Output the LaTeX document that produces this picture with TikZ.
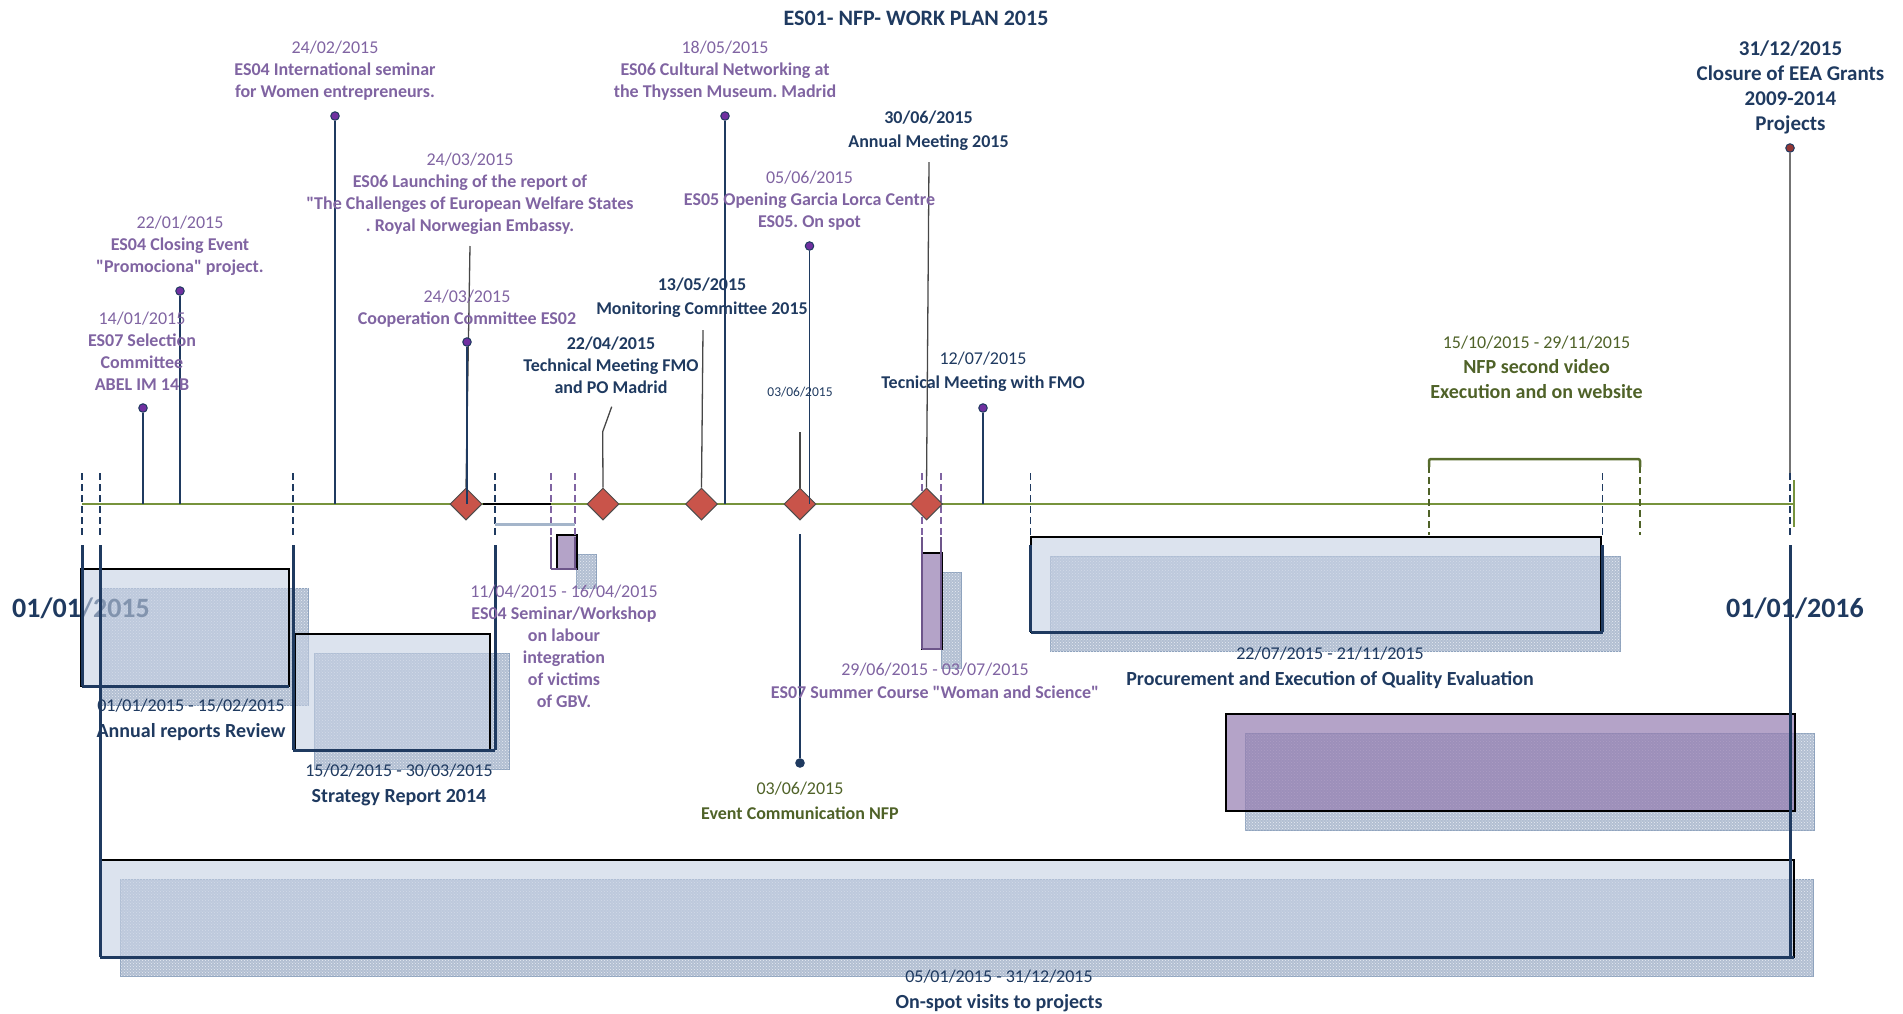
\documentclass[tikz,border=0pt]{standalone}
\usepackage{fontspec}
\setmainfont{Carlito}[Ligatures=TeXOff]
\frenchspacing
\usetikzlibrary{shapes.geometric,patterns,positioning}
\definecolor{nfpnavy}{HTML}{1F3A60}
\definecolor{evpurple}{HTML}{8064A2}
\definecolor{pinpurple}{HTML}{7030A0}
\definecolor{nfpgreen}{HTML}{4F6228}
\definecolor{lineolive}{HTML}{77933C}
\definecolor{milered}{HTML}{C9544A}
\definecolor{closered}{HTML}{943634}
\definecolor{shadeblue}{HTML}{B2BFD2}
\definecolor{shadeedge}{HTML}{8EA2BD}
\definecolor{barblue}{HTML}{C5D0E3}
\definecolor{barpurple}{HTML}{947CB0}
\tikzset{
  every node/.style = {font=\fontsize{18}{22}\selectfont, inner sep=0pt, align=center},
  evt/.style        = {text=evpurple},
  mgt/.style        = {text=nfpnavy},
  com/.style        = {text=nfpgreen},
  pinhead/.style    = {circle, draw=nfpnavy, fill=pinpurple, line width=1pt, minimum size=8.5pt},
  stem/.style       = {nfpnavy, line width=1.8pt},
  leader/.style     = {black!72, line width=1.3pt},
  mile/.style       = {diamond, draw=black!70, fill=milered, line width=1pt,
                       minimum width=32pt, minimum height=32pt},
  dateln/.style     = {nfpnavy, line width=1.5pt, dash pattern=on 7pt off 4pt},
  pdateln/.style    = {dateln, evpurple},
  gdateln/.style    = {dateln, nfpgreen},
  rail/.style       = {nfpnavy, line width=3pt},
  prail/.style      = {evpurple!85!black, line width=2.5pt},
  shadowbox/.style  = {fill=shadeblue, draw=shadeedge, line width=0.8pt,
                       postaction={pattern=crosshatch dots, pattern color=white!70!shadeblue}},
  ganttbar/.style   = {fill=barblue, fill opacity=0.6, draw=black, line width=1.4pt},
  pganttbar/.style  = {fill=barpurple, fill opacity=0.7, draw=black, line width=1.4pt},
  yearlbl/.style    = {mgt, font=\fontsize{28}{32}\selectfont\bfseries},
  barlbl/.style     = {mgt, font=\fontsize{18}{26}\selectfont},
}

\begin{document}
\begin{tikzpicture}[x=1pt, y=-1pt]
  \useasboundingbox (0,0) rectangle (1903,1013);
  \node[mgt, font=\fontsize{22}{26}\selectfont\bfseries] (title) at (916,18) {ES01- NFP- WORK PLAN 2015};

  % gantt bars
  \foreach \a/\b/\c/\d in {81/569/289/686, 295/634/490/750, 557/535/577/569, 922/553/942/649,
                           1031/537/1601/632, 1226/714/1795/811, 101/860/1794/957}
    \draw[shadowbox] (\a+19,\b+19) rectangle (\c+19,\d+19);
  \node[yearlbl] (y2015) at (81,608) {01/01/2015};
  \node[yearlbl] (y2016) at (1795,608) {01/01/2016};
  \foreach \a/\b/\c/\d in {81/569/289/686, 295/634/490/750, 1031/537/1601/632, 101/860/1794/957}
    \draw[ganttbar] (\a,\b) rectangle (\c,\d);
  \foreach \a/\b/\c/\d in {557/535/577/569, 922/553/942/649, 1226/714/1795/811}
    \draw[pganttbar] (\a,\b) rectangle (\c,\d);

  % time line
  \coordinate (t0) at (82,504);
  \coordinate (t1) at (1794,504);
  \draw[lineolive, line width=2pt] (t0) -- (t1);
  \draw[lineolive, line width=1.5pt] (1794,480) -- (1794,527);

  \foreach \x/\y in {82/686, 100/957, 293/750, 495/750, 1030.5/632, 1602.5/632, 1790/957} {
    \draw[dateln] (\x,473) -- (\x,535);
    \draw[rail] (\x,545) -- (\x,\y);
  }
  \foreach \a/\c/\y in {82/289/686, 293/495/750, 1030.5/1602.5/632, 100/1794/957}
    \draw[rail] (\a,\y) -- (\c,\y);
  \foreach \x/\y in {551/569, 575/569, 922/649, 941/649} {
    \draw[pdateln] (\x,473) -- (\x,535);
    \draw[prail] (\x,537) -- (\x,\y);
  }
  \draw[prail] (551,569) -- (577,569);
  \draw[prail] (922,649) -- (942,649);
  \draw[shadeedge!80, line width=3pt] (495,524) -- (575,524);
  \foreach \x in {1429,1640}
    \draw[gdateln] (\x,466) -- (\x,535);
  \draw[nfpgreen!80!lineolive, line width=2.5pt, rounded corners=2pt]
    (1429,467) -- (1429,459) -- (1640,459) -- (1640,467);

  % milestones
  \foreach \n/\x in {m1/466, m2/603, m3/701.5, m4/800, m5/926.5}
    \node[mile] (\n) at (\x,504) {};
  \draw[black, line width=2.5pt] (m1.east) -- (551,504);
  \coordinate (c1) at (470,246);
  \coordinate (c2) at (611.7,406.7);
  \coordinate (c3) at (703,330);
  \coordinate (c4) at (800,432);
  \coordinate (c5) at (929,162);
  \draw[leader] (c1) -- (m1.north);
  \draw[leader] (c2) -- (602.7,431.7) -- (m2.north);
  \draw[leader] (c3) -- (m3.north);
  \draw[leader] (c4) -- (m4.north);
  \draw[leader] (c5) -- (m5.north);

  % events
  \foreach \n/\x/\y in {p1/143/408, p2/180/291, p3/335/116, p4/467/342, p5/725/116, p6/809.5/246, p7/983/408} {
    \node[pinhead] (\n) at (\x,\y) {};
    \coordinate (\n-t) at (\x,504);
    \draw[stem] (\n) -- (\n-t);
  }
  \coordinate (m4-b) at (800,534);
  \node[pinhead, fill=nfpnavy] (p8) at (800,763) {};
  \draw[stem] (m4-b) -- (p8);
  \node[pinhead, fill=closered] (p9) at (1790,148) {};
  \coordinate (p9-t) at (1790,473);
  \draw[leader, black!55] (p9) -- (p9-t);

  % labels
  \node[evt] (l1) at (142,351) {14/01/2015\\\textbf{ES07 Selection}\\\textbf{Committee}\\\textbf{ABEL IM 14B}};
  \node[evt] (l2) at (180,245.5) {22/01/2015\\\textbf{ES04 Closing Event}\\\textbf{"Promociona" project.}};
  \node[evt] (l3) at (335,71) {24/02/2015\\\textbf{ES04 International seminar}\\\textbf{for Women entrepreneurs.}};
  \node[evt] (l4) at (470,193.5) {24/03/2015\\\textbf{ES06 Launching of the report of}\\\textbf{"The Challenges of European Welfare States}\\\textbf{. Royal Norwegian Embassy.}};
  \node[evt] (l5) at (467,308.5) {24/03/2015\\\textbf{Cooperation Committee ES02}};
  \node[mgt, font=\fontsize{18}{22}\selectfont\bfseries] (l6) at (611,365) {22/04/2015\\Technical Meeting FMO\\and PO Madrid};
  \node[mgt, font=\fontsize{18}{24}\selectfont\bfseries] (l7) at (702,298) {13/05/2015\\Monitoring Committee 2015};
  \node[evt] (l8) at (725,70.5) {18/05/2015\\\textbf{ES06 Cultural Networking at}\\\textbf{the Thyssen Museum. Madrid}};
  \node[evt] (l9) at (809.5,200.5) {05/06/2015\\\textbf{ES05 Opening Garcia Lorca Centre}\\\textbf{ES05. On spot}};
  \node[mgt, font=\fontsize{18}{24}\selectfont\bfseries] (l10) at (928.5,131) {30/06/2015\\Annual Meeting 2015};
  \node[mgt, font=\fontsize{13.5}{16}\selectfont] (l11) at (800,392) {03/06/2015};
  \node[mgt, font=\fontsize{18}{24}\selectfont] (l12) at (983,372) {12/07/2015\\\textbf{Tecnical Meeting with FMO}};
  \node[com, font=\fontsize{18}{25}\selectfont] (l13) at (1536.5,367) {15/10/2015 - 29/11/2015\\{\fontsize{20}{25}\selectfont\bfseries NFP second video}\\{\fontsize{20}{25}\selectfont\bfseries Execution and on website}};
  \node[mgt, font=\fontsize{21}{25}\selectfont\bfseries] (l14) at (1790.5,87) {31/12/2015\\Closure of EEA Grants\\2009-2014\\Projects};
  \node[com, font=\fontsize{18}{25}\selectfont] (l15) at (800,800.5) {03/06/2015\\\textbf{Event Communication NFP}};
  \node[barlbl] (b1) at (191,720) {01/01/2015 - 15/02/2015\\{\fontsize{20}{26}\selectfont\bfseries Annual reports Review}};
  \node[barlbl] (b2) at (399,784.5) {15/02/2015 - 30/03/2015\\{\fontsize{20}{26}\selectfont\bfseries Strategy Report 2014}};
  \node[evt] (b3) at (564,646) {11/04/2015 - 16/04/2015\\\textbf{ES04 Seminar/Workshop}\\\textbf{on labour}\\\textbf{integration}\\\textbf{of victims}\\\textbf{of GBV.}};
  \node[evt, font=\fontsize{18}{23}\selectfont] (b4) at (935,680.5) {29/06/2015 - 03/07/2015\\\textbf{ES07 Summer Course "Woman and Science"}};
  \node[barlbl] (b5) at (1330,668) {22/07/2015 - 21/11/2015\\{\fontsize{20}{26}\selectfont\bfseries Procurement and Execution of Quality Evaluation}};
  \node[barlbl] (b6) at (999,991) {05/01/2015 - 31/12/2015\\{\fontsize{20}{26}\selectfont\bfseries On-spot visits to projects}};
\end{tikzpicture}
\end{document}
